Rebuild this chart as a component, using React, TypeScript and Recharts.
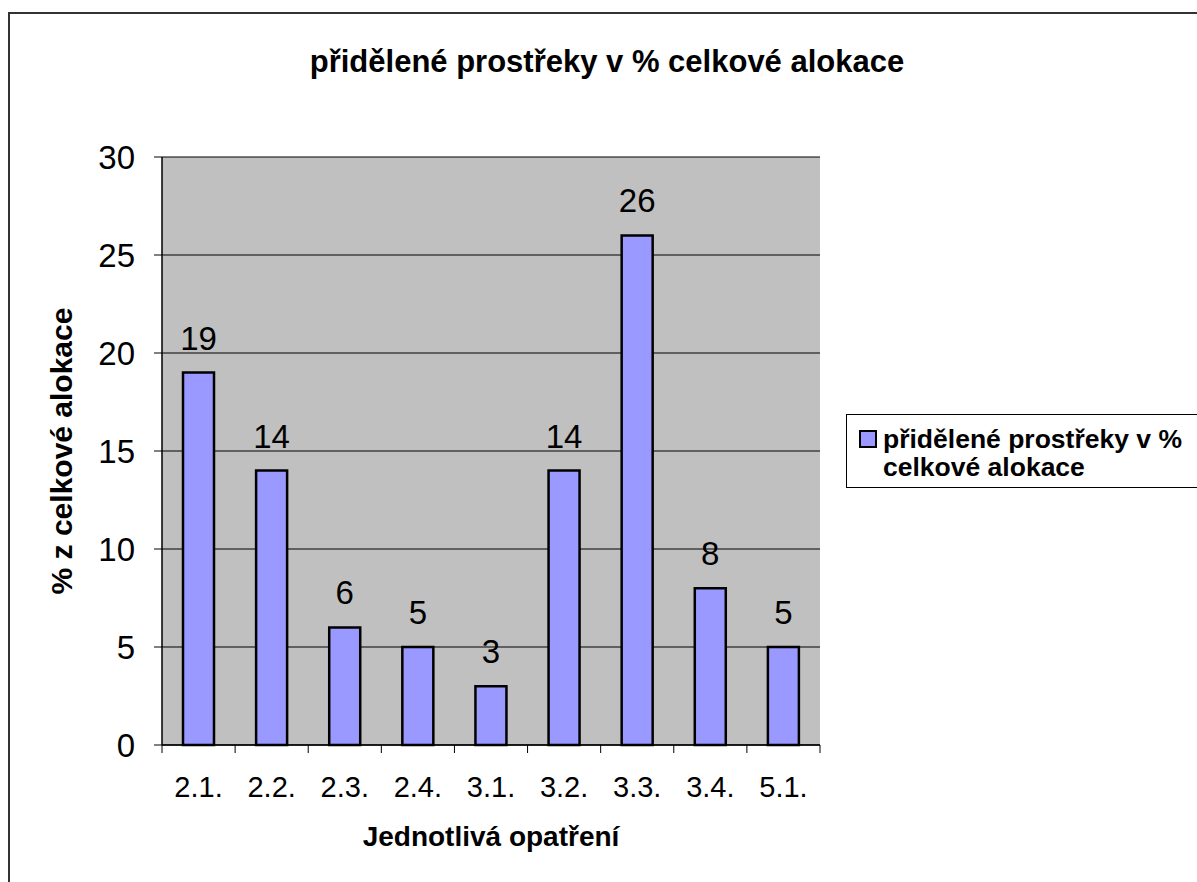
import React from "react";
import {
  BarChart,
  Bar,
  XAxis,
  YAxis,
  CartesianGrid,
  LabelList,
} from "recharts";

const categories = ["2.1.", "2.2.", "2.3.", "2.4.", "3.1.", "3.2.", "3.3.", "3.4.", "5.1."];
const values = [19, 14, 6, 5, 3, 14, 26, 8, 5];
const yTicks = [0, 5, 10, 15, 20, 25, 30];

const seriesName = "přidělené prostřeky v % celkové alokace";
const font = "'Liberation Sans', Arial, sans-serif";

const data = categories.map((name, i) => ({ name, value: values[i] }));

const CHART_W = 1187;
const CHART_H = 868;
const PLOT_W = 658;
const BAND = PLOT_W / categories.length;

// Excel-style ticks sit on the category boundaries, not the centres
function XTick(props: any) {
  const { x, y, payload, index } = props;
  const last = index === categories.length - 1;
  return (
    <g>
      <line x1={x - BAND / 2} x2={x - BAND / 2} y1={y - 8} y2={y} stroke="#000" />
      {last && <line x1={x + BAND / 2} x2={x + BAND / 2} y1={y - 8} y2={y} stroke="#000" />}
      <text x={x} y={y + 44} textAnchor="middle" fontSize={29} fontFamily={font} fill="#000">
        {payload.value}
      </text>
    </g>
  );
}

export default function App() {
  return (
    <div
      style={{
        position: "absolute",
        left: 8,
        top: 12,
        width: 1189,
        height: 870,
        boxSizing: "border-box",
        borderTop: "2px solid #333",
        borderLeft: "2px solid #333",
        overflow: "hidden",
        background: "#fff",
        fontFamily: font,
      }}
    >
      <div
        style={{
          position: "absolute",
          left: 0,
          width: 1194,
          top: 30,
          textAlign: "center",
          fontWeight: "bold",
          fontSize: 31,
          lineHeight: "36px",
        }}
      >
        {seriesName}
      </div>
      <BarChart
        width={CHART_W}
        height={CHART_H}
        data={data}
        margin={{ top: 143, right: 377, left: 0, bottom: 0 }}
        barSize={31}
      >
        <CartesianGrid vertical={false} fill="#C0C0C0" stroke="#000" strokeOpacity={1} />
        <XAxis
          dataKey="name"
          height={137}
          axisLine={{ stroke: "#000", strokeWidth: 1.5 }}
          tickLine={false}
          tickSize={8}
          tickMargin={0}
          tick={<XTick />}
          interval={0}
          label={{
            value: "Jednotlivá opatření",
            position: "insideBottom",
            offset: 36,
            style: { fontSize: 28, fontWeight: "bold", fill: "#000", fontFamily: font },
          }}
        />
        <XAxis
          xAxisId="top"
          orientation="top"
          dataKey="name"
          height={0}
          tick={false}
          tickLine={false}
          axisLine={{ stroke: "#808080", strokeWidth: 2 }}
        />
        <YAxis
          width={152}
          domain={[0, 30]}
          ticks={yTicks}
          interval={0}
          tickSize={8}
          tickMargin={19}
          axisLine={{ stroke: "#000", strokeWidth: 1.5 }}
          tickLine={{ stroke: "#000" }}
          tick={{ fontSize: 33, fill: "#000", fontFamily: font }}
          label={{
            value: "% z celkové alokace",
            angle: -90,
            position: "insideLeft",
            offset: 51,
            style: { textAnchor: "middle", fontSize: 30, fontWeight: "bold", fill: "#000", fontFamily: font },
          }}
        />
        <YAxis
          yAxisId="right"
          orientation="right"
          width={0}
          domain={[0, 30]}
          tick={false}
          tickLine={false}
          axisLine={{ stroke: "#808080", strokeWidth: 2.5 }}
        />
        <Bar
          dataKey="value"
          name={seriesName}
          fill="#9999FF"
          stroke="#000"
          strokeWidth={2.5}
          isAnimationActive={false}
        >
          <LabelList
            dataKey="value"
            position="top"
            offset={23}
            style={{ fontSize: 33, fill: "#000", fontFamily: font }}
          />
        </Bar>
      </BarChart>
      <div
        style={{
          position: "absolute",
          left: 836,
          top: 400,
          width: 359,
          height: 74,
          boxSizing: "border-box",
          border: "1.5px solid #000",
          display: "flex",
          alignItems: "flex-start",
          paddingTop: 10,
          paddingLeft: 12,
          background: "#fff",
        }}
      >
        <div
          style={{
            width: 14,
            height: 14,
            border: "2px solid #000",
            background: "#9999FF",
            marginTop: 5,
            marginRight: 6,
            flexShrink: 0,
          }}
        />
        <div style={{ fontWeight: "bold", fontSize: 26.5, lineHeight: "28px", whiteSpace: "nowrap" }}>
          přidělené prostřeky v %
          <br />
          celkové alokace
        </div>
      </div>
    </div>
  );
}
